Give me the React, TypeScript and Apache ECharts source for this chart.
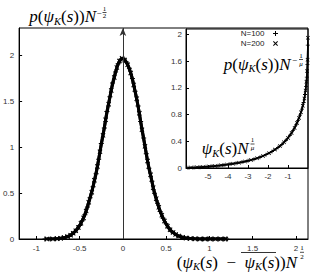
import React, { useEffect, useRef } from 'react';
import * as echarts from 'echarts';

// ---- data ----
const mainXTicks = [-1, -0.5, 0, 0.5, 1, 1.5, 2];
const mainYTicks = [0, 0.5, 1, 1.5, 2];
const insetXTicks = [-5, -4, -3, -2, -1];
const insetYTicks = [0, 0.4, 0.8, 1.2, 1.6, 2];
const seriesNames = ['N=100', 'N=200'];

const mainN100: [number, number][] = [
  [-0.9, 0], [-0.84, 0.001], [-0.78, 0.002], [-0.74, 0.005], [-0.7, 0.011], [-0.66, 0.02], [-0.62, 0.034],
  [-0.59, 0.052], [-0.56, 0.076], [-0.53, 0.107], [-0.5, 0.148], [-0.47, 0.2], [-0.44, 0.265], [-0.41, 0.35],
  [-0.38, 0.45], [-0.345, 0.57], [-0.31, 0.71], [-0.28, 0.87], [-0.25, 1.04], [-0.215, 1.21], [-0.185, 1.39],
  [-0.15, 1.55], [-0.12, 1.7], [-0.085, 1.82], [-0.055, 1.91], [-0.025, 1.96], [0.005, 1.97], [0.04, 1.93],
  [0.075, 1.86], [0.11, 1.75], [0.14, 1.61], [0.175, 1.45], [0.205, 1.28], [0.24, 1.1], [0.27, 0.93],
  [0.3, 0.77], [0.335, 0.63], [0.365, 0.5], [0.4, 0.39], [0.43, 0.3], [0.465, 0.225], [0.5, 0.165],
  [0.53, 0.12], [0.56, 0.085], [0.595, 0.06], [0.625, 0.04], [0.67, 0.024], [0.71, 0.013], [0.755, 0.007],
  [0.81, 0.003], [0.86, 0.001], [0.92, 0], [0.98, 0], [1.04, 0], [1.1, 0], [1.16, 0], [1.2, 0],
];
const mainN200: [number, number][] = [
  [-0.88, 0], [-0.81, 0.001], [-0.76, 0.003], [-0.72, 0.008], [-0.68, 0.015], [-0.64, 0.026], [-0.605, 0.042],
  [-0.575, 0.063], [-0.545, 0.09], [-0.515, 0.126], [-0.485, 0.172], [-0.455, 0.23], [-0.425, 0.305],
  [-0.395, 0.4], [-0.36, 0.51], [-0.33, 0.64], [-0.295, 0.79], [-0.265, 0.95], [-0.23, 1.13], [-0.2, 1.3],
  [-0.165, 1.47], [-0.135, 1.62], [-0.1, 1.76], [-0.07, 1.87], [-0.04, 1.94], [-0.01, 1.97], [0.02, 1.95],
  [0.055, 1.9], [0.09, 1.81], [0.125, 1.68], [0.16, 1.53], [0.19, 1.37], [0.22, 1.19], [0.255, 1.01],
  [0.285, 0.85], [0.32, 0.7], [0.35, 0.56], [0.385, 0.44], [0.415, 0.345], [0.45, 0.26], [0.48, 0.195],
  [0.515, 0.14], [0.545, 0.1], [0.58, 0.072], [0.61, 0.05], [0.645, 0.032], [0.69, 0.018], [0.73, 0.01],
  [0.78, 0.005], [0.835, 0.002], [0.89, 0], [0.95, 0], [1.01, 0], [1.07, 0], [1.13, 0], [1.19, 0],
];
const insetN100: [number, number][] = [
  [-6.0, 0.005], [-5.7, 0.008], [-5.4, 0.013], [-5.1, 0.019], [-4.8, 0.026], [-4.5, 0.035], [-4.2, 0.046],
  [-3.9, 0.058], [-3.6, 0.072], [-3.3, 0.088], [-3.0, 0.108], [-2.7, 0.132], [-2.4, 0.162], [-2.1, 0.2],
  [-1.8, 0.247], [-1.5, 0.305], [-1.3, 0.355], [-1.1, 0.415], [-0.9, 0.49], [-0.75, 0.56], [-0.6, 0.645],
  [-0.5, 0.71], [-0.4, 0.79], [-0.3, 0.88], [-0.22, 0.98], [-0.15, 1.1], [-0.1, 1.22], [-0.06, 1.36],
  [-0.03, 1.55], [-0.01, 1.84],
];
const insetN200: [number, number][] = [
  [-5.85, 0.006], [-5.55, 0.01], [-5.25, 0.016], [-4.95, 0.022], [-4.65, 0.03], [-4.35, 0.04], [-4.05, 0.052],
  [-3.75, 0.065], [-3.45, 0.08], [-3.15, 0.098], [-2.85, 0.12], [-2.55, 0.146], [-2.25, 0.18], [-1.95, 0.222],
  [-1.65, 0.275], [-1.4, 0.33], [-1.2, 0.385], [-1.0, 0.45], [-0.82, 0.525], [-0.67, 0.6], [-0.55, 0.675],
  [-0.45, 0.75], [-0.35, 0.835], [-0.26, 0.93], [-0.18, 1.04], [-0.12, 1.16], [-0.08, 1.29], [-0.045, 1.45],
  [-0.02, 1.62], [-0.005, 1.95],
];

// ---- styling ----
const PLUS = 'path://M4,0H6V4H10V6H6V10H4V6H0V4H4Z';
const CROSS = 'path://M0,1.4L1.4,0L5,3.6L8.6,0L10,1.4L6.4,5L10,8.6L8.6,10L5,6.4L1.4,10L0,8.6L3.6,5Z';
const sans = 'Liberation Sans, Arial, sans-serif';
const serif = 'Liberation Serif, Times New Roman, serif';
const FS = 17;

const rich: any = {
  it: { fontFamily: serif, fontStyle: 'italic', fontSize: FS, lineHeight: 20, fill: '#000', color: '#000' },
  rm: { fontFamily: serif, fontSize: FS, lineHeight: 20, fill: '#000', color: '#000' },
  sub: { fontFamily: serif, fontStyle: 'italic', fontSize: 10.5, lineHeight: 10, verticalAlign: 'bottom', fill: '#000', color: '#000' },
};

function richText(text: string, x: number, y: number): any {
  return {
    type: 'text', x, y, silent: true,
    style: { text, rich, align: 'right', textAlign: 'right', verticalAlign: 'middle', textVerticalAlign: 'middle', fill: '#000' },
  };
}
function small(text: string, x: number, y: number, size: number, italic = false): any {
  return {
    type: 'text', x, y, silent: true,
    style: {
      text, fill: '#000', fontFamily: serif, fontSize: size, fontStyle: italic ? 'italic' : 'normal',
      align: 'center', textAlign: 'center', verticalAlign: 'middle', textVerticalAlign: 'middle',
    },
  };
}
function hline(x1: number, x2: number, y: number, w = 0.7): any {
  return { type: 'line', silent: true, shape: { x1, y1: y, x2, y2: y }, style: { stroke: '#000', lineWidth: w } };
}

function axisCommon(ticks: number[], margin: number) {
  return {
    type: 'value' as const,
    axisLine: { show: true, onZero: false, lineStyle: { color: '#000', width: 1 } },
    axisTick: { show: true, inside: true, length: 3, customValues: ticks, lineStyle: { color: '#000' } },
    axisLabel: { customValues: ticks, fontSize: 8, color: '#333', margin, fontFamily: sans },
    splitLine: { show: false },
  };
}

function lineSeries(name: string, data: [number, number][], sym: string, idx: number, width: number, size: number, extra: any = {}) {
  return {
    type: 'line', name, data, xAxisIndex: idx, yAxisIndex: idx,
    symbol: sym, symbolSize: size, showSymbol: true, showAllSymbol: true,
    itemStyle: { color: '#000' }, lineStyle: { color: '#000', width },
    emphasis: { disabled: true }, silent: true, clip: true, z: 3,
    ...extra,
  };
}

export default function App() {
  const ref = useRef<HTMLDivElement>(null);
  useEffect(() => {
    if (!ref.current) return;
    const chart = echarts.init(ref.current, null, { renderer: 'svg' });
    const option: any = {
      animation: false,
      backgroundColor: '#fff',
      grid: [
        { left: 17, top: 28, right: 3, bottom: 35, show: true, borderColor: '#000', borderWidth: 1 },
        { left: 186, top: 29, right: 3, bottom: 106, show: true, borderColor: '#000', borderWidth: 1 },
      ],
      xAxis: [
        { ...axisCommon(mainXTicks, 5), gridIndex: 0, min: -1.2, max: 2.14 },
        { ...axisCommon(insetXTicks, 4), gridIndex: 1, min: -6.1, max: 0 },
      ],
      yAxis: [
        { ...axisCommon(mainYTicks, 5), gridIndex: 0, min: 0, max: 2.3 },
        { ...axisCommon(insetYTicks, 4), gridIndex: 1, min: 0, max: 2.08 },
      ],
      legend: {
        data: [
          { name: seriesNames[0], icon: PLUS },
          { name: seriesNames[1], icon: CROSS },
        ],
        orient: 'vertical', right: 33, top: 29, align: 'right',
        itemWidth: 12, itemHeight: 5, itemGap: 1, padding: 0, selectedMode: false,
        textStyle: { fontSize: 8, color: '#222', fontFamily: sans, lineHeight: 9 },
      },
      series: [
        lineSeries(seriesNames[0], mainN100, PLUS, 0, 3, 5, {
          markLine: {
            silent: true, symbol: ['none', 'arrow'], symbolSize: [5, 8], animation: false,
            lineStyle: { color: '#333', width: 1, type: 'solid' }, label: { show: false },
            emphasis: { disabled: true }, data: [{ xAxis: 0 }],
          },
        }),
        lineSeries(seriesNames[1], mainN200, CROSS, 0, 3, 5),
        lineSeries(seriesNames[0], insetN100, PLUS, 1, 1.5, 4),
        lineSeries(seriesNames[1], insetN200, CROSS, 1, 1.5, 4),
      ],
      graphic: [
        // main y label: p(psi_K(s)) N^{-1/2}
        richText('{it|p}{rm|(}{it|ψ}{sub|K}{rm|(}{it|s}{rm|))}{it|N}', 96, 16.5),
        small('−', 99, 13, 9),
        small('1', 104.5, 9, 7), hline(102.5, 106.5, 12.5), small('2', 104.5, 16, 7),
        // main x label
        richText('{rm|(}{it|ψ}{sub|K}{rm|(}{it|s}{rm|)\u2002−\u2002}{it|ψ}{sub|K}{rm|(}{it|s}{rm|))}{it|N}', 297, 262),
        hline(241, 276, 252.5, 0.8),
        small('1', 302, 248, 7), hline(300, 304, 252.3), small('2', 302, 256.5, 7),
        // inset y label
        richText('{it|p}{rm|(}{it|ψ}{sub|K}{rm|(}{it|s}{rm|))}{it|N}', 290.5, 64),
        small('−', 294.5, 60, 9),
        small('1', 301, 55.5, 7), hline(299, 303, 59.5), small('μ', 301, 63.5, 7, true),
        // inset x label
        richText('{it|ψ}{sub|K}{rm|(}{it|s}{rm|)}{it|N}', 248.5, 148.5),
        small('1', 252.5, 140, 7), hline(250.5, 254.5, 144), small('μ', 252.5, 148, 7, true),
      ],
    };
    chart.setOption(option);
    return () => chart.dispose();
  }, []);
  return <div ref={ref} style={{ position: 'fixed', left: 0, top: 0, width: 311, height: 274 }} />;
}
